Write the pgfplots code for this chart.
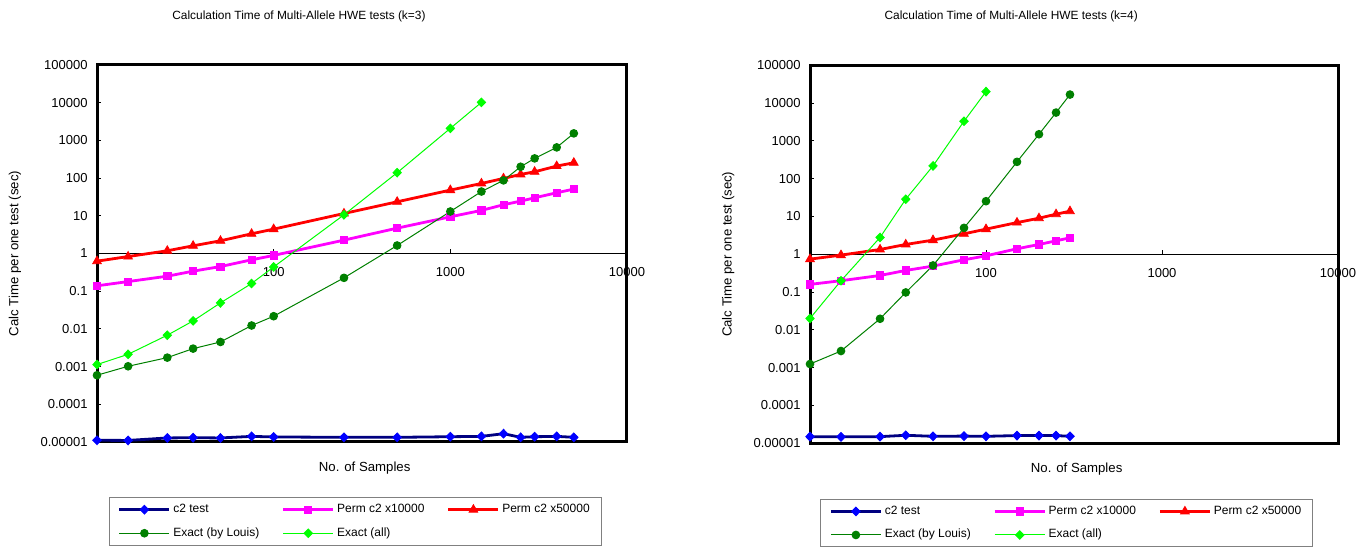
\documentclass[border=0pt]{standalone}
\usepackage{fontspec}
\setmainfont{Liberation Sans}
\usepackage{pgfplots}
\pgfplotsset{compat=1.18}

\definecolor{navyline}{RGB}{0,0,128}
\definecolor{bluemark}{RGB}{0,0,255}
\definecolor{permmag}{RGB}{255,0,255}
\definecolor{permred}{RGB}{255,0,0}
\definecolor{louisgreen}{RGB}{0,128,0}
\definecolor{allgreen}{RGB}{0,255,0}

\pgfplotsset{
  legend image code/.code={\draw[mark repeat=2,mark phase=2,#1] plot coordinates {(0pt,0pt) (12.5pt,0pt) (25pt,0pt)};},
}

\begin{document}
\begin{tikzpicture}
\path (0,0) rectangle (685.5pt,274.5pt);

% k = 3
\begin{axis}[
  at={(48.5pt,53.5pt)}, anchor=south west, width=265pt, height=188.5pt,
  scale only axis,
  xmode=log, ymode=log,
  xmin=10, xmax=10000, ymin=1e-5, ymax=1e5,
  axis x line=middle, axis y line=left,
  axis line style={-, black},
  xtick={10,100,1000,10000},
  xticklabels={10,100,1000,10000},
  ytick={1e-5,1e-4,1e-3,1e-2,1e-1,1,10,100,1000,10000,100000},
  yticklabels={0.00001,0.0001,0.001,0.01,0.1,1,10,100,1000,10000,100000},
  xminorticks=false, yminorticks=false,
  tick align=inside, major tick length=2pt,
  tick style={black, line width=0.4pt},
  tick label style={font=\fontsize{6.5}{7}\selectfont},
  yticklabel style={xshift=-1.2pt},
  xticklabel style={yshift=-3.5pt},
  xlabel={No. of Samples},
  ylabel={Calc Time per one test (sec)},
  xlabel style={at={(axis description cs:0.505,-0.069)}, anchor=center, font=\fontsize{6.6}{7}\selectfont},
  ylabel style={at={(axis description cs:-0.155,0.5)}, anchor=center, rotate=0, font=\fontsize{6.6}{7}\selectfont},
  every axis title shift=0pt,
  title={Calculation Time of Multi-Allele HWE tests (k=3)},
  title style={at={(axis description cs:0.381,1.13)}, anchor=center, font=\fontsize{5.95}{7}\selectfont},
  clip=false,
  legend columns=3,
  legend cell align=left,
  legend style={at={(0.487,-0.211)}, anchor=center, draw=gray, line width=0.5pt,
    font=\fontsize{6}{7}\selectfont, inner xsep=4.5pt, inner ysep=1.8pt,
    nodes={inner sep=1.25pt}, row sep=3.5pt,
    /tikz/every even column/.append style={column sep=10pt}},
]
\draw[line width=1.5pt] (rel axis cs:0,0) rectangle (rel axis cs:1,1);
\addplot[color=navyline, line width=1.4pt, mark=diamond*, mark size=2.2pt, mark options={fill=bluemark, draw=bluemark, line width=0.4pt, xscale=1.3}] coordinates {
  (10,1.11e-5) (15,1.1e-5) (25,1.28e-5) (35,1.3e-5) (50,1.28e-5) (75,1.41e-5) (100,1.36e-5)
  (250,1.33e-5) (500,1.33e-5) (1000,1.38e-5) (1500,1.41e-5) (2000,1.66e-5) (2500,1.33e-5)
  (3000,1.38e-5) (4000,1.41e-5) (5000,1.33e-5)};
\addlegendentry{c2 test}
\addplot[color=permmag, line width=1.4pt, mark=square*, mark size=1.8pt, mark options={line width=0.4pt}] coordinates {
  (10,0.139) (15,0.18) (25,0.25) (35,0.34) (50,0.45) (75,0.68) (100,0.89) (250,2.26)
  (500,4.7) (1000,9.4) (1500,13.9) (2000,19.6) (2500,24.5) (3000,30) (4000,40.8) (5000,51)};
\addlegendentry{Perm c2 x10000}
\addplot[color=permred, line width=1.4pt, mark=triangle*, mark size=2.5pt, mark options={line width=0.4pt}] coordinates {
  (10,0.625) (15,0.83) (25,1.18) (35,1.6) (50,2.17) (75,3.33) (100,4.43) (250,11.5)
  (500,23.5) (1000,48) (1500,72) (2000,98) (2500,125) (3000,147) (4000,208) (5000,255)};
\addlegendentry{Perm c2 x50000}
\addplot[color=louisgreen, line width=0.5pt, mark=*, mark size=1.9pt] coordinates {
  (10,5.9e-4) (15,1.02e-3) (25,1.73e-3) (35,3.0e-3) (50,4.5e-3) (75,0.0123) (100,0.0217)
  (250,0.226) (500,1.63) (1000,13) (1500,44) (2000,87) (2500,200) (3000,333) (4000,652) (5000,1535)};
\addlegendentry{Exact (by Louis)}
\addplot[color=allgreen, line width=0.5pt, mark=diamond*, mark size=2.1pt, mark options={xscale=1.3}] coordinates {
  (10,1.13e-3) (15,2.12e-3) (25,6.8e-3) (35,0.0163) (50,0.049) (75,0.16) (100,0.44)
  (250,10.6) (500,139) (1000,2085) (1500,10200)};
\addlegendentry{Exact (all)}
\end{axis}

% k = 4
\begin{axis}[
  at={(405pt,52.85pt)}, anchor=south west, width=264pt, height=189pt,
  scale only axis,
  xmode=log, ymode=log,
  xmin=10, xmax=10000, ymin=1e-5, ymax=1e5,
  axis x line=middle, axis y line=left,
  axis line style={-, black},
  xtick={10,100,1000,10000},
  xticklabels={10,100,1000,10000},
  ytick={1e-5,1e-4,1e-3,1e-2,1e-1,1,10,100,1000,10000,100000},
  yticklabels={0.00001,0.0001,0.001,0.01,0.1,1,10,100,1000,10000,100000},
  xminorticks=false, yminorticks=false,
  tick align=inside, major tick length=2pt,
  tick style={black, line width=0.4pt},
  tick label style={font=\fontsize{6.5}{7}\selectfont},
  yticklabel style={xshift=-1.2pt},
  xticklabel style={yshift=-3.5pt},
  xlabel={No. of Samples},
  ylabel={Calc Time per one test (sec)},
  xlabel style={at={(axis description cs:0.505,-0.069)}, anchor=center, font=\fontsize{6.6}{7}\selectfont},
  ylabel style={at={(axis description cs:-0.155,0.5)}, anchor=center, rotate=0, font=\fontsize{6.6}{7}\selectfont},
  every axis title shift=0pt,
  title={Calculation Time of Multi-Allele HWE tests (k=4)},
  title style={at={(axis description cs:0.381,1.13)}, anchor=center, font=\fontsize{5.95}{7}\selectfont},
  clip=false,
  legend columns=3,
  legend cell align=left,
  legend style={at={(0.486,-0.2116)}, anchor=center, draw=gray, line width=0.5pt,
    font=\fontsize{6}{7}\selectfont, inner xsep=4.5pt, inner ysep=1.8pt,
    nodes={inner sep=1.25pt}, row sep=3.5pt,
    /tikz/every even column/.append style={column sep=10pt}},
]
\draw[line width=1.5pt] (rel axis cs:0,0) rectangle (rel axis cs:1,1);
\addplot[color=navyline, line width=1.4pt, mark=diamond*, mark size=2.2pt, mark options={fill=bluemark, draw=bluemark, line width=0.4pt, xscale=1.3}] coordinates {
  (10,1.5e-5) (15,1.48e-5) (25,1.5e-5) (35,1.63e-5) (50,1.53e-5) (75,1.55e-5) (100,1.53e-5)
  (150,1.6e-5) (200,1.6e-5) (250,1.6e-5) (300,1.53e-5)};
\addlegendentry{c2 test}
\addplot[color=permmag, line width=1.4pt, mark=square*, mark size=1.8pt, mark options={line width=0.4pt}] coordinates {
  (10,0.16) (15,0.2) (25,0.275) (35,0.374) (50,0.487) (75,0.716) (100,0.91) (150,1.4)
  (200,1.82) (250,2.27) (300,2.73)};
\addlegendentry{Perm c2 x10000}
\addplot[color=permred, line width=1.4pt, mark=triangle*, mark size=2.5pt, mark options={line width=0.4pt}] coordinates {
  (10,0.745) (15,0.95) (25,1.34) (35,1.82) (50,2.37) (75,3.48) (100,4.63) (150,6.9)
  (200,9.0) (250,11.5) (300,13.8)};
\addlegendentry{Perm c2 x50000}
\addplot[color=louisgreen, line width=0.5pt, mark=*, mark size=1.9pt] coordinates {
  (10,1.25e-3) (15,2.76e-3) (25,0.0197) (35,0.098) (50,0.507) (75,5.0) (100,25.4)
  (150,279) (200,1500) (250,5610) (300,16800)};
\addlegendentry{Exact (by Louis)}
\addplot[color=allgreen, line width=0.5pt, mark=diamond*, mark size=2.1pt, mark options={xscale=1.3}] coordinates {
  (10,0.0201) (15,0.2) (25,2.79) (35,28.7) (50,218) (75,3310) (100,20100)};
\addlegendentry{Exact (all)}
\end{axis}
\end{tikzpicture}
\end{document}
